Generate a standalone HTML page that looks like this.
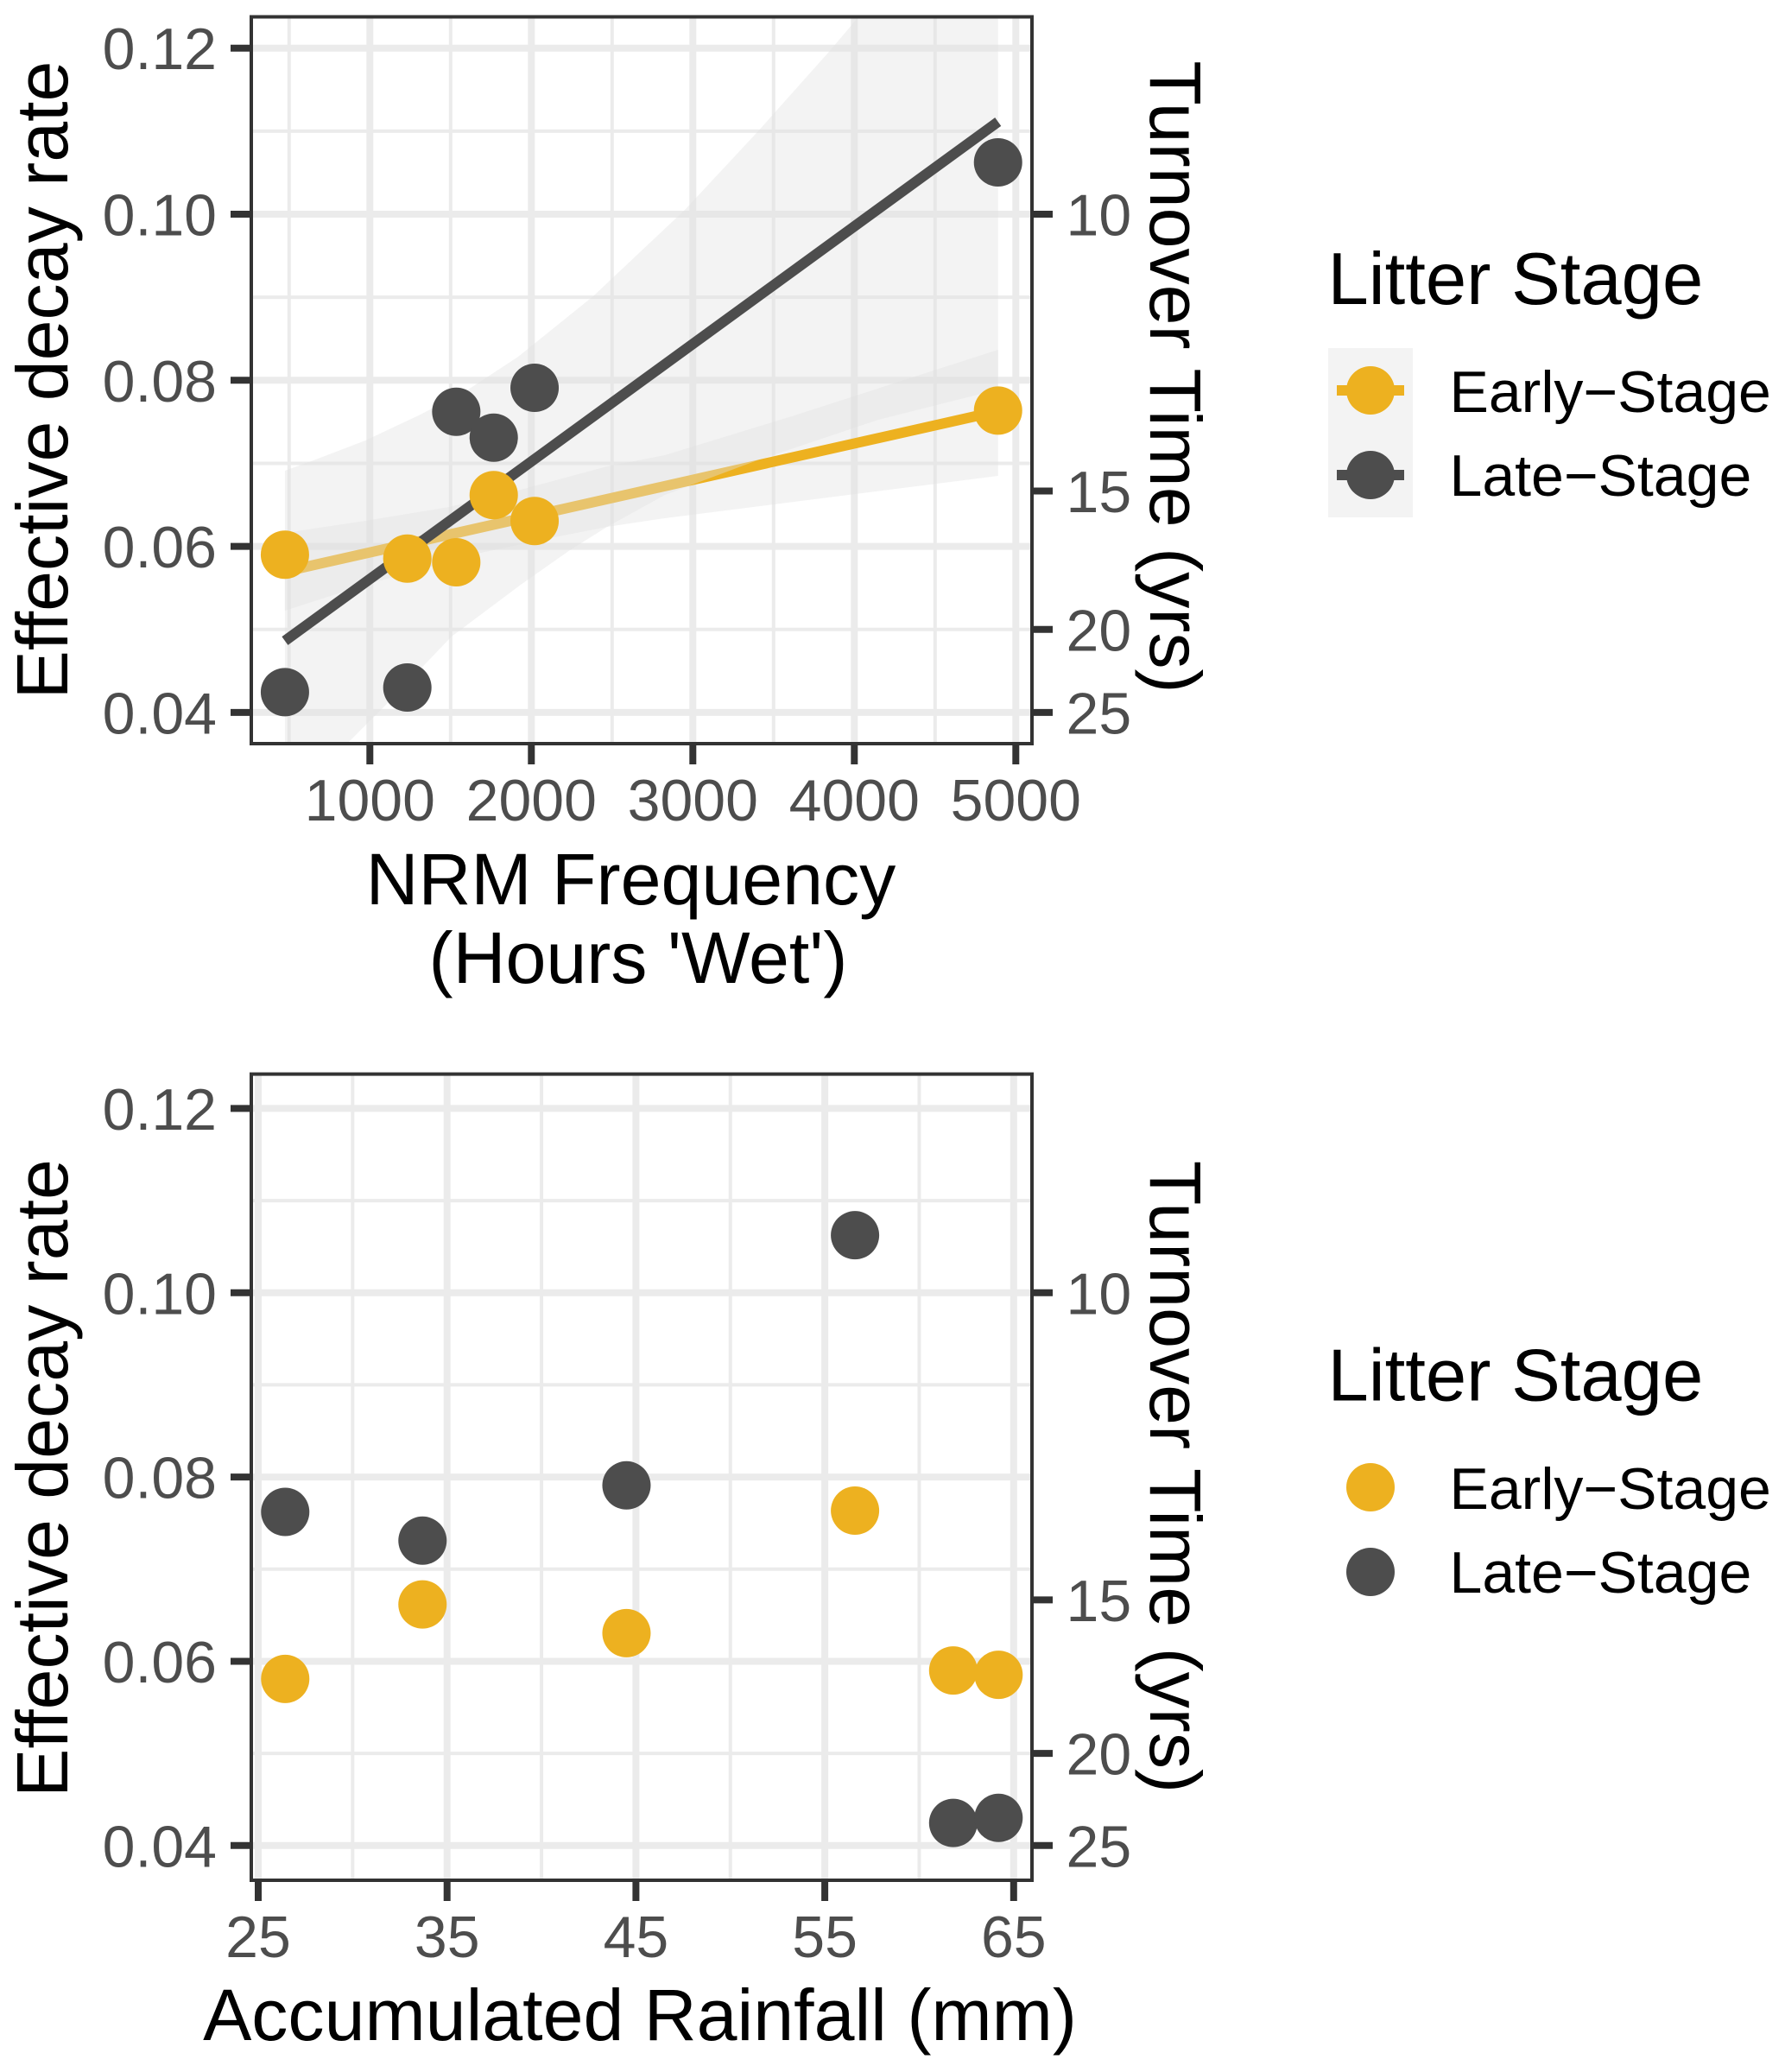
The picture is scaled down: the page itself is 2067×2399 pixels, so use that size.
<!DOCTYPE html>
<html lang="en">
<head>
<meta charset="utf-8">
<title>Effective decay rate vs NRM frequency and rainfall</title>
<style>
html,body{margin:0;padding:0;background:#fff;}
svg{display:block;}
text{font-family:"Liberation Sans",Arial,sans-serif;}
.tick-label{font-size:68px;fill:#4D4D4D;}
.axis-title{font-size:84.3px;fill:#000;}
.legend-title{font-size:85px;fill:#000;}
.legend-label{font-size:68px;fill:#000;}
</style>
</head>
<body>
<svg id="chart" xmlns="http://www.w3.org/2000/svg" width="2067" height="2399" viewBox="0 0 2067 2399">
  <rect x="0" y="0" width="2067" height="2399" fill="#fff"/>
  <defs>
    <clipPath id="clip-top"><rect x="291" y="19.5" width="904" height="841.5"/></clipPath>
  </defs>
  <g id="panel-top"></g>
  <g id="panel-bottom"></g>

  <text class="axis-title" text-anchor="middle" transform="translate(78,440) rotate(-90)">Effective decay rate</text>
  <text class="axis-title" text-anchor="middle" transform="translate(1332,436.5) rotate(90)">Turnover Time (yrs)</text>
  <text class="axis-title" text-anchor="middle" x="730.5" y="1047">NRM Frequency</text>
  <text class="axis-title" text-anchor="middle" x="739" y="1138">(Hours 'Wet')</text>

  <text class="axis-title" text-anchor="middle" transform="translate(78,1711.5) rotate(-90)">Effective decay rate</text>
  <text class="axis-title" text-anchor="middle" transform="translate(1332,1710) rotate(90)">Turnover Time (yrs)</text>
  <text class="axis-title" text-anchor="middle" x="741" y="2362">Accumulated Rainfall (mm)</text>

  <g>
    <text class="legend-title" x="1537.5" y="352">Litter Stage</text>
    <rect x="1538" y="403" width="98" height="98" fill="#F3F3F3"/>
    <rect x="1538" y="501" width="98" height="98" fill="#F3F3F3"/>
    <line x1="1548" x2="1626" y1="452" y2="452" stroke="#EDB120" stroke-width="12"/>
    <circle cx="1587" cy="452" r="28" fill="#EDB120"/>
    <text class="legend-label" x="1678.5" y="477">Early&#8722;Stage</text>
    <line x1="1548" x2="1626" y1="550" y2="550" stroke="#4D4D4D" stroke-width="12"/>
    <circle cx="1587" cy="550" r="28" fill="#4D4D4D"/>
    <text class="legend-label" x="1678.5" y="574">Late&#8722;Stage</text>
  </g>

  <g>
    <text class="legend-title" x="1537.5" y="1621.5">Litter Stage</text>
    <circle cx="1587" cy="1722" r="28" fill="#EDB120"/>
    <text class="legend-label" x="1678.5" y="1747">Early&#8722;Stage</text>
    <circle cx="1587" cy="1820" r="28" fill="#4D4D4D"/>
    <text class="legend-label" x="1678.5" y="1844">Late&#8722;Stage</text>
  </g>
</svg>

<script>
// Observations (same samples, two x variables)
const nrmHours = [474, 1232, 1535, 1767, 2020, 4890];
const rainfallMm = [61.8, 64.2, 26.43, 33.7, 44.5, 56.6];
const earlyDecay = [0.0590, 0.05853, 0.05809, 0.06617, 0.06305, 0.07635];
const lateDecay = [0.04245, 0.0430, 0.07621, 0.07309, 0.07909, 0.10624];

// Fitted lines: hours at each end, decay at each end
const fitHours = [474, 4890];
const earlyFit = [0.05697, 0.07628];
const lateFit = [0.04862, 0.11113];

// Confidence ribbons
const lateUpperHours = [474, 651, 972, 1313, 1602, 1918, 2383, 2950, 3399, 3843, 3988, 4890];
const lateUpperDecay = [0.06911, 0.07036, 0.07275, 0.07587, 0.07879, 0.08284, 0.09012, 0.10052, 0.10988, 0.11955, 0.12289, 0.14493];
const lateLowerHours = [474, 875, 1116, 1506, 1934, 2239, 2469, 2827, 3399, 4148, 4890];
const lateLowerDecay = [0.02876, 0.03656, 0.04124, 0.04914, 0.05538, 0.05954, 0.06235, 0.0662, 0.07036, 0.07525, 0.07889];
const earlyUpperHours = [474, 972, 1491, 1934, 2469, 2827, 3613, 4890];
const earlyUpperDecay = [0.06162, 0.06308, 0.06474, 0.06682, 0.06963, 0.07098, 0.07566, 0.08367];
const earlyLowerHours = [474, 972, 1688, 2116, 2469, 2827, 4890];
const earlyLowerDecay = [0.05226, 0.05538, 0.05923, 0.061, 0.06235, 0.06339, 0.06849];

// Axis ticks
const decayTicks = [0.04, 0.06, 0.08, 0.10, 0.12];
const decayTickLabels = ['0.04', '0.06', '0.08', '0.10', '0.12'];
const decayMinorTicks = [0.05, 0.07, 0.09, 0.11];
const turnoverTicks = [10, 15, 20, 25];
const nrmTicks = [1000, 2000, 3000, 4000, 5000];
const nrmMinorTicks = [500, 1500, 2500, 3500, 4500];
const rainTicks = [25, 35, 45, 55, 65];
const rainMinorTicks = [30, 40, 50, 60];

const GOLD = '#EDB120';
const DARK = '#4D4D4D';
const NS = 'http://www.w3.org/2000/svg';

function mk(parent, tag, name, attrs, txt) {
  const el = document.createElementNS(NS, tag);
  for (const k in attrs) el.setAttribute(k, attrs[k]);
  
  
  if (txt !== undefined) el.textContent = txt;
  parent.appendChild(el);
  return el;
}

function drawFrame(g, prefix, box, xScale, yScale, xTicks, xMinor) {
  mk(g, 'rect', prefix + '-panel-background', {x: box.l, y: box.t, width: box.r - box.l, height: box.b - box.t, fill: '#fff'});
  const gi = 2;
  decayMinorTicks.forEach(v => mk(g, 'line', prefix + '-minor-gridline-y', {x1: box.l + gi, x2: box.r - gi, y1: yScale(v), y2: yScale(v), stroke: '#EBEBEB', 'stroke-width': 4}));
  xMinor.forEach(v => mk(g, 'line', prefix + '-minor-gridline-x', {x1: xScale(v), x2: xScale(v), y1: box.t + gi, y2: box.b - gi, stroke: '#EBEBEB', 'stroke-width': 4}));
  decayTicks.forEach(v => mk(g, 'line', prefix + '-major-gridline-y', {x1: box.l + gi, x2: box.r - gi, y1: yScale(v), y2: yScale(v), stroke: '#EBEBEB', 'stroke-width': 8}));
  xTicks.forEach(v => mk(g, 'line', prefix + '-major-gridline-x', {x1: xScale(v), x2: xScale(v), y1: box.t + gi, y2: box.b - gi, stroke: '#EBEBEB', 'stroke-width': 8}));
}

function drawAxes(g, prefix, box, xScale, yScale, xTicks) {
  mk(g, 'rect', prefix + '-panel-border', {x: box.l, y: box.t, width: box.r - box.l, height: box.b - box.t, fill: 'none', stroke: '#333333', 'stroke-width': 4});
  decayTicks.forEach((v, i) => {
    const y = yScale(v);
    mk(g, 'line', prefix + '-y-tick', {x1: box.l - 24, x2: box.l, y1: y, y2: y, stroke: '#333333', 'stroke-width': 8});
    mk(g, 'text', prefix + '-y-tick-label', {x: box.l - 40, y: y + 24.5, 'text-anchor': 'end', class: 'tick-label'}, decayTickLabels[i]);
  });
  turnoverTicks.forEach(t => {
    const y = yScale(1 / t);
    mk(g, 'line', prefix + '-right-tick', {x1: box.r, x2: box.r + 24, y1: y, y2: y, stroke: '#333333', 'stroke-width': 8});
    mk(g, 'text', prefix + '-right-tick-label', {x: box.r + 39.5, y: y + 24.5, class: 'tick-label'}, String(t));
  });
  xTicks.forEach(v => {
    const x = xScale(v);
    mk(g, 'line', prefix + '-x-tick', {x1: x, x2: x, y1: box.b, y2: box.b + 24, stroke: '#333333', 'stroke-width': 8});
    mk(g, 'text', prefix + '-x-tick-label', {x: x, y: box.b + 89, 'text-anchor': 'middle', class: 'tick-label'}, String(v));
  });
}

function ribbonPath(upX, upY, loX, loY, xScale, yScale) {
  const pts = [];
  upX.forEach((v, i) => pts.push(xScale(v).toFixed(1) + ',' + yScale(upY[i]).toFixed(1)));
  for (let i = loX.length - 1; i >= 0; i--) pts.push(xScale(loX[i]).toFixed(1) + ',' + yScale(loY[i]).toFixed(1));
  return 'M' + pts.join('L') + 'Z';
}

function drawPoints(g, prefix, xs, ys, color, series, xScale, yScale) {
  xs.forEach((v, i) => mk(g, 'circle', prefix + '-point-' + series, {cx: xScale(v), cy: yScale(ys[i]), r: 28, fill: color}));
}

// ---- top panel ----
const boxTop = {l: 291, r: 1195, t: 19.5, b: 861};
const xTop = v => 428.3 + (v - 1000) * 0.187;
const yTop = v => 55.7 + (0.12 - v) * 9615;
const gTop = document.getElementById('panel-top');
drawFrame(gTop, 'top', boxTop, xTop, yTop, nrmTicks, nrmMinorTicks);
const fits = mk(gTop, 'g', 'top-fits', {'clip-path': 'url(#clip-top)'});
mk(fits, 'path', 'early-stage-confidence-ribbon', {d: ribbonPath(earlyUpperHours, earlyUpperDecay, earlyLowerHours, earlyLowerDecay, xTop, yTop), fill: '#E1E1E1', 'fill-opacity': 0.4});
mk(fits, 'line', 'early-stage-fit-line', {x1: xTop(fitHours[0]), y1: yTop(earlyFit[0]), x2: xTop(fitHours[1]), y2: yTop(earlyFit[1]), stroke: GOLD, 'stroke-width': 12});
mk(fits, 'path', 'late-stage-confidence-ribbon', {d: ribbonPath(lateUpperHours, lateUpperDecay, lateLowerHours, lateLowerDecay, xTop, yTop), fill: '#E1E1E1', 'fill-opacity': 0.4});
mk(fits, 'line', 'late-stage-fit-line', {x1: xTop(fitHours[0]), y1: yTop(lateFit[0]), x2: xTop(fitHours[1]), y2: yTop(lateFit[1]), stroke: DARK, 'stroke-width': 12});
drawPoints(gTop, 'top', nrmHours, lateDecay, DARK, 'late', xTop, yTop);
drawPoints(gTop, 'top', nrmHours, earlyDecay, GOLD, 'early', xTop, yTop);
drawAxes(gTop, 'top', boxTop, xTop, yTop, nrmTicks);

// ---- bottom panel ----
const boxBot = {l: 291, r: 1195, t: 1243.6, b: 2177};
const xBot = v => 299 + (v - 25) * 21.87;
const yBot = v => 1283.4 + (0.12 - v) * 10667.5;
const gBot = document.getElementById('panel-bottom');
drawFrame(gBot, 'bottom', boxBot, xBot, yBot, rainTicks, rainMinorTicks);
drawPoints(gBot, 'bottom', rainfallMm, lateDecay, DARK, 'late', xBot, yBot);
drawPoints(gBot, 'bottom', rainfallMm, earlyDecay, GOLD, 'early', xBot, yBot);
drawAxes(gBot, 'bottom', boxBot, xBot, yBot, rainTicks);
</script>
</body>
</html>
